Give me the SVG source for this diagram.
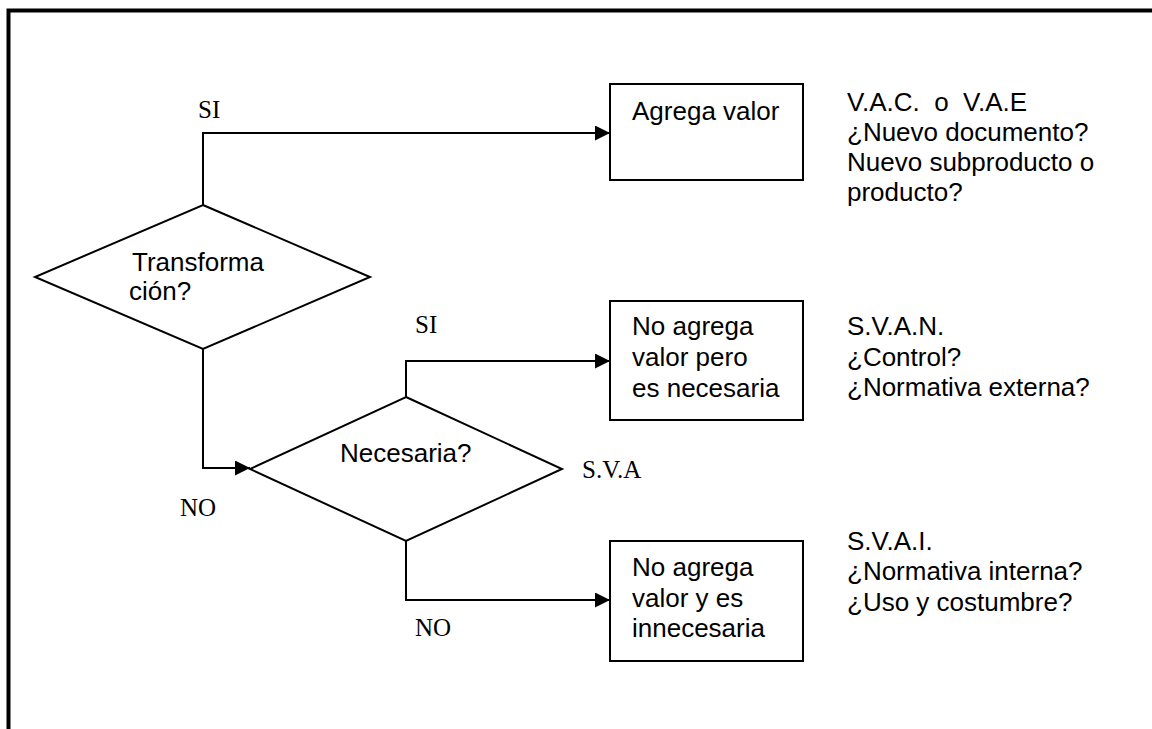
<svg xmlns="http://www.w3.org/2000/svg" width="1152" height="729" viewBox="0 0 1152 729">
  <style>
    .shape { fill: #ffffff; stroke: #000000; stroke-width: 2; }
    .conn { fill: none; stroke: #000000; stroke-width: 2; }
    .sans { font-family: "Liberation Sans", Arial, sans-serif; font-size: 26px; fill: #000000; }
    .serif { font-family: "Liberation Serif", "Times New Roman", serif; font-size: 25px; fill: #000000; }
  </style>
  <defs>
    <marker id="arrow" markerWidth="15" markerHeight="15" refX="15" refY="7.5" orient="auto" markerUnits="userSpaceOnUse">
      <path d="M0,0 L15,7.5 L0,15 Z" fill="#000000"/>
    </marker>
  </defs>

  <rect width="1152" height="729" fill="#ffffff"/>

  <!-- page frame: left and top edges -->
  <path d="M8.5,729 L8.5,10.5 L1152,10.5" fill="none" stroke="#000000" stroke-width="4"/>

  <!-- connectors -->
  <g id="connectors">
    <path class="conn" d="M203,205 L203,133 L610,133" marker-end="url(#arrow)"/>
    <path class="conn" d="M203,349 L203,468 L250,468" marker-end="url(#arrow)"/>
    <path class="conn" d="M406,397 L406,361 L610,361" marker-end="url(#arrow)"/>
    <path class="conn" d="M406,541 L406,600 L610,600" marker-end="url(#arrow)"/>
    <text class="serif" x="198" y="118">SI</text>
    <text class="serif" x="180" y="516">NO</text>
    <text class="serif" x="415" y="333">SI</text>
    <text class="serif" x="415" y="636">NO</text>
    <text class="serif" x="582" y="478">S.V.A</text>
  </g>

  <g id="transformacion">
    <polygon class="shape" points="203,205 370,277 203,349 35,277"/>
    <text class="sans" x="132" y="271">Transforma</text>
    <text class="sans" x="129" y="300">ción?</text>
  </g>

  <g id="necesaria">
    <polygon class="shape" points="406,397 562,469 406,541 250,469"/>
    <text class="sans" x="340" y="462">Necesaria?</text>
  </g>

  <g id="agrega-valor">
    <rect class="shape" x="610" y="84" width="193" height="96"/>
    <text class="sans" x="632" y="120">Agrega valor</text>
  </g>

  <g id="no-agrega-necesaria">
    <rect class="shape" x="610" y="301" width="193" height="119"/>
    <text class="sans" x="632" y="335">No agrega</text>
    <text class="sans" x="632" y="366">valor pero</text>
    <text class="sans" x="632" y="397">es necesaria</text>
  </g>

  <g id="no-agrega-innecesaria">
    <rect class="shape" x="610" y="541" width="193" height="120"/>
    <text class="sans" x="632" y="576">No agrega</text>
    <text class="sans" x="632" y="607">valor y es</text>
    <text class="sans" x="632" y="637">innecesaria</text>
  </g>

  <g id="nota-vac">
    <text class="sans" x="847" y="111" xml:space="preserve">V.A.C.  o  V.A.E</text>
    <text class="sans" x="847" y="141">¿Nuevo documento?</text>
    <text class="sans" x="847" y="171">Nuevo subproducto o</text>
    <text class="sans" x="847" y="201">producto?</text>
  </g>

  <g id="nota-svan">
    <text class="sans" x="847" y="335">S.V.A.N.</text>
    <text class="sans" x="847" y="366">¿Control?</text>
    <text class="sans" x="847" y="396">¿Normativa externa?</text>
  </g>

  <g id="nota-svai">
    <text class="sans" x="847" y="550">S.V.A.I.</text>
    <text class="sans" x="847" y="580">¿Normativa interna?</text>
    <text class="sans" x="847" y="611">¿Uso y costumbre?</text>
  </g>
</svg>
